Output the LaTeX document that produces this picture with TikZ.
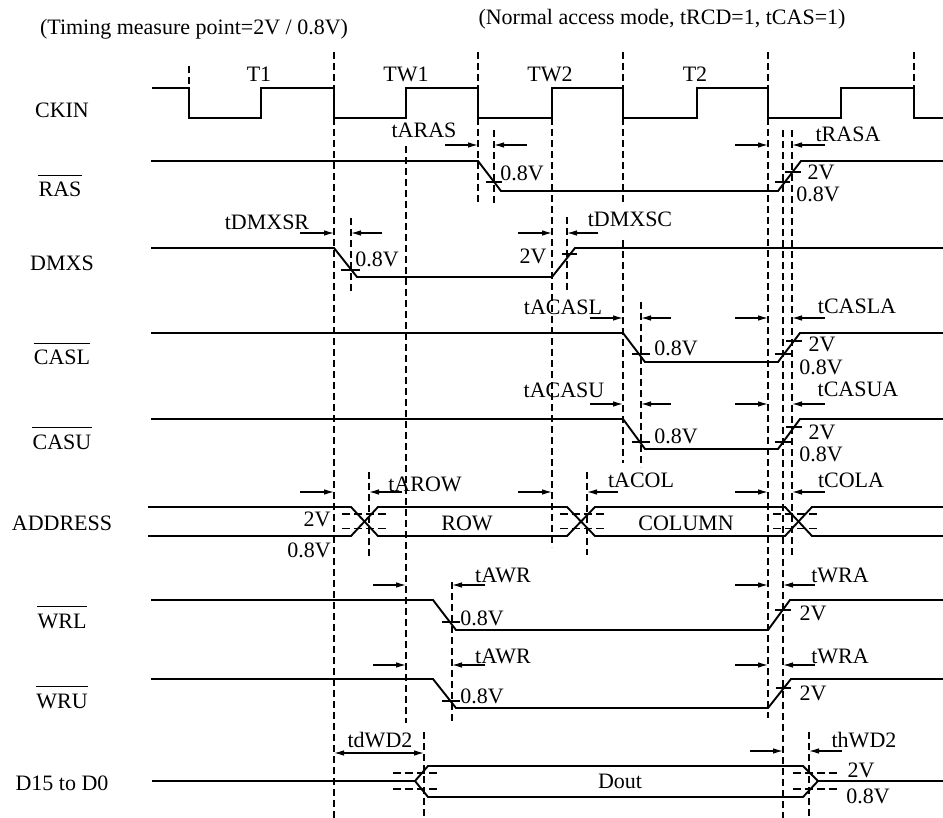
\documentclass[tikz,border=0pt]{standalone}
\usepackage{fontspec}
\setmainfont{Liberation Serif}
\usetikzlibrary{arrows.meta}

\begin{document}
\begin{tikzpicture}[x=1pt,y=-1pt,
  sig/.style={line width=1.9pt},
  grid/.style={line width=1.8pt,dash pattern=on 7pt off 4pt},
  aux/.style={line width=1.1pt,dash pattern=on 7pt off 4pt},
  lvl/.style={line width=1.6pt,dash pattern=on 8pt off 4pt},
  lvlthin/.style={line width=1pt,dash pattern=on 8pt off 4pt},
  tm/.style={line width=1.1pt,-{Latex[length=10pt,width=5.5pt]}},
  tmboth/.style={line width=1.1pt,{Latex[length=10pt,width=5.5pt]}-{Latex[length=10pt,width=5.5pt]}},
  tick/.style={line width=1.3pt},
  txt/.style={font=\fontsize{22}{24}\selectfont,inner sep=0pt,anchor=base}]
\useasboundingbox (0,0) rectangle (943,818);

\node[txt] at (194,35) {(Timing measure point=2V / 0.8V)};
\node[txt] at (662,25) {(Normal access mode, tRCD=1, tCAS=1)};

% signal names
\node[txt] (ckin) at (62,118) {CKIN};
\node[txt] (ras) at (60,197) {RAS};
\node[txt] (dmxs) at (62,271) {DMXS};
\node[txt] (casl) at (62,365) {CASL};
\node[txt] (casu) at (62,449) {CASU};
\node[txt] (addr) at (62,530) {ADDRESS};
\node[txt] (wrl) at (62,628) {WRL};
\node[txt] (wru) at (62,708) {WRU};
\node[txt] (dat) at (62,790) {D15 to D0};
\foreach \n in {ras,casl,casu,wrl,wru}
  \draw[line width=1pt] ([yshift=7pt]\n.north west) -- ([yshift=7pt]\n.north east);

% waveforms
\draw[sig] (152,88) -- (189,88) -- (189,118) -- (261,118) -- (261,88) -- (334,88) -- (334,118)
  -- (406,118) -- (406,88) -- (478,88) -- (478,118) -- (552,118) -- (552,88) -- (623,88)
  -- (623,118) -- (697,118) -- (697,88) -- (768,88) -- (768,118) -- (841,118) -- (841,88)
  -- (914,88) -- (914,118) -- (943,118);
\draw[sig] (151,161) -- (478,161) -- (501,191) -- (778,191) -- (801,161) -- (943,161);
\draw[sig] (151,248) -- (334,248) -- (357,277) -- (552,277) -- (575,248) -- (943,248);
\draw[sig] (151,333) -- (623,333) -- (645,362) -- (778,362) -- (800,333) -- (943,333);
\draw[sig] (151,419) -- (623,419) -- (645,449) -- (778,449) -- (800,419) -- (943,419);
\draw[sig] (148,507) -- (351,507) -- (378,536) -- (567,536) -- (595,507) -- (785,507) -- (812,536) -- (943,536);
\draw[sig] (148,536) -- (351,536) -- (378,507) -- (567,507) -- (595,536) -- (785,536) -- (812,507) -- (943,507);
\draw[sig] (151,600) -- (433,600) -- (456,630) -- (768,630) -- (790,600) -- (943,600);
\draw[sig] (151,679) -- (433,679) -- (456,708) -- (768,708) -- (791,679) -- (943,679);
\draw[sig] (152,781) -- (415,781) -- (428,766) -- (803,766) -- (818,781) -- (943,781);
\draw[sig] (415,781) -- (428,797) -- (803,797) -- (818,781);

% timing lines
\foreach \x/\ya/\yb in {189/66/88, 334/52/818, 478/52/203, 623/52/202, 623/240/463,
    768/52/718, 914/52/88, 406/146/723, 552/118/547, 641/302/467, 783/130/818,
    792/130/555, 369/472/557, 587/472/555, 452/582/723, 424/732/818, 809/732/818}
  \draw[grid] (\x,\ya) -- (\x,\yb);
\foreach \x/\ya/\yb in {494/130/203, 351/218/292, 567/217/292}
  \draw[aux] (\x,\ya) -- (\x,\yb);

% 2V / 0.8V levels
\foreach \xa/\xb in {342/389, 560/607, 773/820} {
  \draw[lvl] (\xa,514) -- (\xb,514);
  \draw[lvlthin] (\xa,528) -- (\xb,528);
}
\foreach \xa/\xb in {393/438, 793/840} {
  \draw[lvl] (\xa,773) -- (\xb,773);
  \draw[lvl] (\xa,789) -- (\xb,789);
}
\foreach \xa/\xb/\y in {486/502/182, 775/790/182, 785/801/172, 341/360/270, 562/577/254,
    632/650/354, 775/792/354, 786/802/341, 632/650/442, 775/791/442, 786/802/427,
    442/460/622, 775/791/610, 442/460/701, 776/791/688}
  \draw[tick] (\xa,\y) -- (\xb,\y);

% measure arrows
\foreach \xa/\xb/\y in {445/478/145, 527/494/145, 735/768/145, 825/792/145,
    300/334/233, 382/351/233, 518/552/233, 598/567/233,
    590/623/318, 671/641/318, 735/768/318, 825/792/318,
    590/623/404, 671/641/404, 735/768/404, 825/792/404,
    300/334/492, 402/369/492, 518/552/492, 618/587/492, 735/768/492, 825/792/492,
    373/406/585, 485/452/585, 735/768/585, 815/783/585,
    373/406/665, 485/452/665, 735/768/665, 815/783/665,
    750/783/751, 842/809/751}
  \draw[tm] (\xa,\y) -- (\xb,\y);
\draw[tmboth] (334,753) -- (424,753);

% labels
\foreach \x/\y/\t in {259/82/T1, 406/82/TW1, 550/82/TW2, 695/82/T2,
    424/138/tARAS, 522/181/0.8V, 848/142/tRASA, 821/180/2V, 818/202/0.8V,
    267/230/tDMXSR, 377/267/0.8V, 630/227/tDMXSC, 533/264/2V,
    563/315/tACASL, 676/356/0.8V, 857/314/tCASLA, 822/352/2V, 821/374/0.8V,
    564/398/tACASU, 676/443/0.8V, 858/397/tCASUA, 822/439/2V, 821/461/0.8V,
    425/491/tAROW, 641/487/tACOL, 851/487/tCOLA, 467/530/ROW, 686/530/COLUMN,
    317/526/2V, 309/557/0.8V,
    503/582/tAWR, 482/625/0.8V, 840/582/tWRA, 813/620/2V,
    503/663/tAWR, 482/703/0.8V, 840/663/tWRA, 813/700/2V,
    380/747/tdWD2, 864/747/thWD2, 861/777/2V, 868/803/0.8V, 620/788/Dout}
  \node[txt] at (\x,\y) {\t};
\end{tikzpicture}
\end{document}
